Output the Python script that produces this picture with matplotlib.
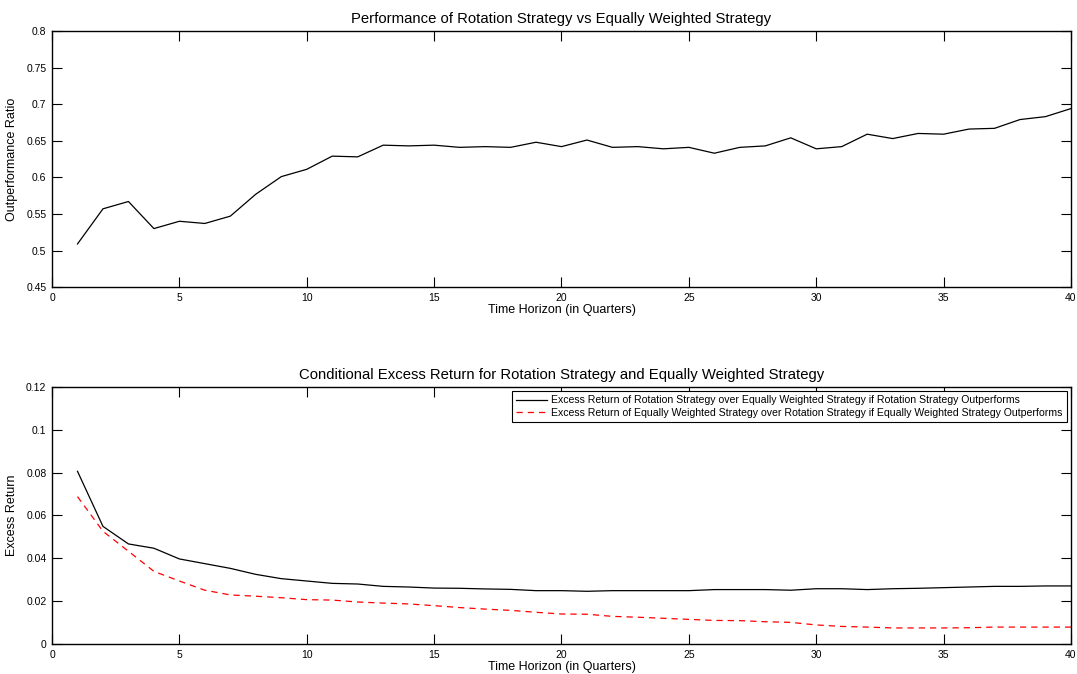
import matplotlib.pyplot as plt
import numpy as np

plt.rcParams['font.family'] = ['Liberation Sans', 'DejaVu Sans']

quarters = np.arange(1, 41)

outperf_ratio = [0.509, 0.557, 0.567, 0.530, 0.540, 0.537, 0.547, 0.577, 0.601, 0.611,
                 0.629, 0.628, 0.644, 0.643, 0.644, 0.641, 0.642, 0.641, 0.648, 0.642,
                 0.651, 0.641, 0.642, 0.639, 0.641, 0.633, 0.641, 0.643, 0.654, 0.639,
                 0.642, 0.659, 0.653, 0.660, 0.659, 0.666, 0.667, 0.679, 0.683, 0.694]

excess_rot = [0.0806, 0.0549, 0.0467, 0.0447, 0.0397, 0.0375, 0.0353, 0.0325, 0.0305, 0.0294,
              0.0283, 0.0280, 0.0269, 0.0266, 0.0261, 0.0260, 0.0257, 0.0255, 0.0249, 0.0249,
              0.0246, 0.0249, 0.0249, 0.0249, 0.0249, 0.0254, 0.0254, 0.0254, 0.0251, 0.0258,
              0.0258, 0.0254, 0.0258, 0.0260, 0.0263, 0.0266, 0.0269, 0.0269, 0.0271, 0.0271]

excess_ew = [0.0688, 0.0526, 0.0433, 0.0339, 0.0294, 0.0251, 0.0229, 0.0223, 0.0216, 0.0207,
             0.0205, 0.0196, 0.0191, 0.0187, 0.0179, 0.0170, 0.0163, 0.0157, 0.0148, 0.0140,
             0.0139, 0.0129, 0.0125, 0.0120, 0.0115, 0.0110, 0.0109, 0.0104, 0.0101, 0.0089,
             0.0082, 0.0079, 0.0075, 0.0075, 0.0075, 0.0076, 0.0079, 0.0079, 0.0079, 0.0079]

xticks = [0, 5, 10, 15, 20, 25, 30, 35, 40]
yticks_top = [0.45, 0.5, 0.55, 0.6, 0.65, 0.7, 0.75, 0.8]
yticks_bot = [0, 0.02, 0.04, 0.06, 0.08, 0.1, 0.12]


def matlab_style(ax):
    # inward ticks on all four sides, like a matlab figure
    ax.tick_params(direction='in', length=7, width=0.8, top=True, right=True,
                   labelsize=7.5, pad=4)
    for s in ax.spines.values():
        s.set_linewidth(1.0)


fig = plt.figure(figsize=(10.77, 6.74), dpi=100)
ax1 = fig.add_axes([0.0483, 0.574, 0.9461, 0.380])
ax2 = fig.add_axes([0.0483, 0.0445, 0.9461, 0.3815])

ax1.plot(quarters, outperf_ratio, color='k', lw=0.9)
ax1.set_xlim(0, 40)
ax1.set_ylim(0.45, 0.8)
ax1.set_xticks(xticks)
ax1.set_yticks(yticks_top)
ax1.set_yticklabels(['0.45', '0.5', '0.55', '0.6', '0.65', '0.7', '0.75', '0.8'])
ax1.set_title('Performance of Rotation Strategy vs Equally Weighted Strategy', fontsize=10.7, pad=6)
ax1.set_xlabel('Time Horizon (in Quarters)', fontsize=9, labelpad=1)
ax1.set_ylabel('Outperformance Ratio', fontsize=9, labelpad=6)
matlab_style(ax1)

ax2.plot(quarters, excess_rot, color='k', lw=0.9,
         label='Excess Return of Rotation Strategy over Equally Weighted Strategy if Rotation Strategy Outperforms')
ax2.plot(quarters, excess_ew, color='red', lw=0.9, linestyle=(0, (5, 4)),
         label='Excess Return of Equally Weighted Strategy over Rotation Strategy if Equally Weighted Strategy Outperforms')
ax2.set_xlim(0, 40)
ax2.set_ylim(0, 0.12)
ax2.set_xticks(xticks)
ax2.set_yticks(yticks_bot)
ax2.set_yticklabels(['0', '0.02', '0.04', '0.06', '0.08', '0.1', '0.12'])
ax2.set_title('Conditional Excess Return for Rotation Strategy and Equally Weighted Strategy',
              fontsize=10.7, pad=6)
ax2.set_xlabel('Time Horizon (in Quarters)', fontsize=9, labelpad=1)
ax2.set_ylabel('Excess Return', fontsize=9, labelpad=6)
matlab_style(ax2)

leg = ax2.legend(loc='upper right', fontsize=7.6, fancybox=False, framealpha=1,
                 edgecolor='k', handlelength=3, handletextpad=0.35, borderpad=0.4,
                 labelspacing=0.25, borderaxespad=0.4)
leg.get_frame().set_linewidth(0.8)

fig.savefig('out.png', dpi=100)
